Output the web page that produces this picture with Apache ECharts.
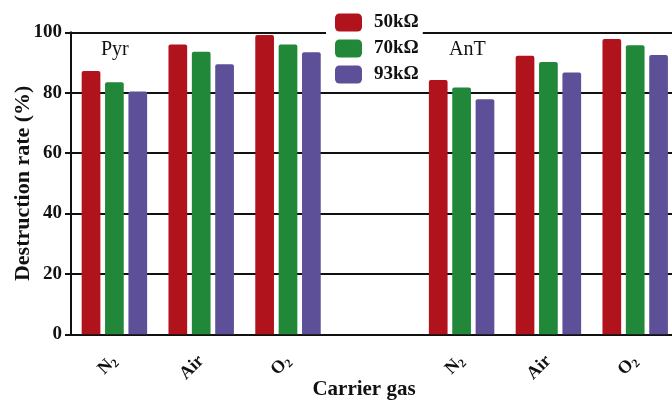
<!DOCTYPE html>
<html>
<head>
<meta charset="utf-8">
<script src="https://cdn.jsdelivr.net/npm/echarts@6/dist/echarts.min.js"></script>
<style>
  html, body { margin: 0; padding: 0; background: #fff; }
  #chart { width: 672px; height: 401px; }
</style>
</head>
<body>
<div id="chart"></div>
<script>
// ---- data ----
var pollutants = ['Pyr', 'AnT'];
var categories = ['Pyr-N2', 'Pyr-Air', 'Pyr-O2', 'gap', 'AnT-N2', 'AnT-Air', 'AnT-O2'];
var tickLabels = ['N2', 'Air', 'O2', '', 'N2', 'Air', 'O2'];
var seriesNames = ['50kΩ', '70kΩ', '93kΩ'];
var r50 = [87.2, 96.0, 99.1, null, 84.2, 92.2, 97.8];
var r70 = [83.5, 93.6, 96.0, null, 81.7, 90.2, 95.7];
var r93 = [80.4, 89.4, 93.4, null, 77.8, 86.7, 92.5];
var yTicks = [0, 20, 40, 60, 80, 100];

var colors = ['#B1131D', '#21883A', '#5E4F99'];
var serif = '"Liberation Serif", "Times New Roman", serif';

var chart = echarts.init(document.getElementById('chart'), null, { renderer: 'canvas' });

function fmtLabel(v, i) {
  var t = tickLabels[i];
  if (!t) return '';
  var m = t.match(/^([A-Za-z]+)(\d)$/);
  if (m) return '{b|' + m[1] + '}{s|' + m[2] + '}';
  return '{b|' + t + '}';
}

var allSeries = [r50, r70, r93].map(function (arr, k) {
  return {
    name: seriesNames[k],
    type: 'bar',
    data: arr,
    barWidth: 18.7,
    barGap: '25%',
    itemStyle: { color: colors[k], borderRadius: [2, 2, 0, 0] }
  };
});

chart.setOption({
  animation: false,
  backgroundColor: '#fff',
  grid: { left: 71, right: -6.6, top: 32.3, bottom: 66.7, containLabel: false, outerBoundsMode: 'none' },
  legend: {
    orient: 'vertical',
    left: 326,
    top: 4,
    padding: [9, 4, 6, 9],
    backgroundColor: '#fff',
    itemWidth: 27,
    itemHeight: 18,
    itemGap: 7,
    icon: 'roundRect',
    data: seriesNames,
    textStyle: {
      fontFamily: serif, fontWeight: 'bold', fontSize: 19, color: '#111',
      lineHeight: 18, padding: [0, 0, 0, 7]
    },
    z: 10
  },
  xAxis: {
    type: 'category',
    data: categories,
    axisLine: { lineStyle: { color: '#111', width: 2 } },
    axisTick: { alignWithLabel: true, length: 7, lineStyle: { color: '#111', width: 2 } },
    axisLabel: {
      rotate: 45,
      margin: 24,
      interval: 0,
      formatter: fmtLabel,
      rich: {
        b: { fontFamily: serif, fontWeight: 'bold', fontSize: 18, color: '#111' },
        s: { fontFamily: serif, fontWeight: 'bold', fontSize: 12, color: '#111', padding: [9, 0, 0, 0] }
      }
    },
    splitLine: { show: false }
  },
  yAxis: {
    type: 'value',
    min: yTicks[0],
    max: yTicks[yTicks.length - 1],
    interval: 20,
    name: 'Destruction rate (%)',
    nameLocation: 'middle',
    nameGap: 37,
    nameMoveOverlap: false,
    nameTextStyle: { fontFamily: serif, fontWeight: 'bold', fontSize: 22, color: '#111' },
    axisLine: { show: true, lineStyle: { color: '#111', width: 2 } },
    axisTick: { show: true, length: 6, lineStyle: { color: '#111', width: 2 } },
    axisLabel: { margin: 9, fontFamily: serif, fontWeight: 'bold', fontSize: 19, color: '#111' },
    splitLine: { show: true, lineStyle: { color: '#111', width: 2 } }
  },
  title: {
    text: 'Carrier gas',
    left: 364,
    top: 379,
    textAlign: 'center',
    padding: 0,
    textStyle: { fontFamily: serif, fontWeight: 'bold', fontSize: 21, color: '#111' }
  },
  graphic: [
    { type: 'text', left: 101, top: 40, style: { text: pollutants[0], fontFamily: serif, fontSize: 20, fill: '#111' } },
    { type: 'text', left: 449, top: 40, style: { text: pollutants[1], fontFamily: serif, fontSize: 20, fill: '#111' } }
  ],
  series: allSeries
});
</script>
</body>
</html>
